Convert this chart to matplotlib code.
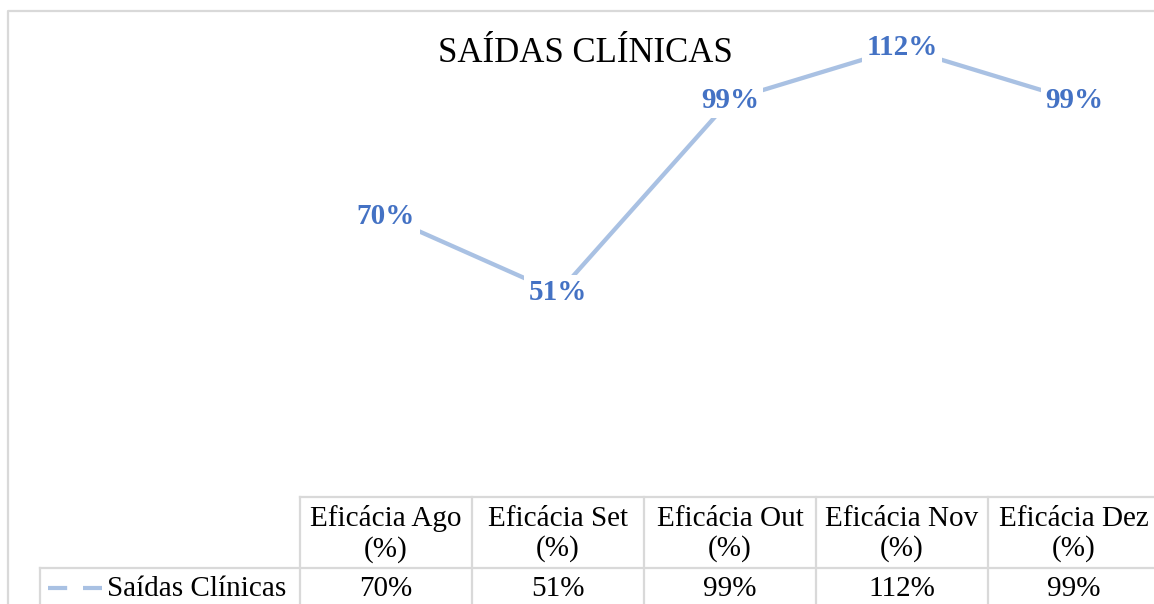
import matplotlib
matplotlib.use("Agg")
import matplotlib.pyplot as plt
from matplotlib.lines import Line2D

plt.rcParams['font.family'] = ['Liberation Serif', 'DejaVu Serif']

# dados
meses = ['Ago', 'Set', 'Out', 'Nov', 'Dez']
eficacia = [70, 51, 99, 112, 99]
serie = 'Saídas Clínicas'
titulo = 'SAÍDAS CLÍNICAS'

cor_linha = '#a9c1e3'
cor_rotulo = '#4472c4'
cor_grade = '#d9d9d9'

W, H = 1154, 604
fig = plt.figure(figsize=(W / 100, H / 100), dpi=100)

# camada em pixels para moldura e tabela
ov = fig.add_axes([0, 0, 1, 1])
ov.set_xlim(0, W)
ov.set_ylim(H, 0)
ov.axis('off')

# moldura do gráfico
ov.plot([8, 8, W + 10], [H + 10, 10.5, 10.5], color=cor_grade, lw=1.6, solid_capstyle='butt')

# tabela de dados
x0, larg = 300, 172
y_top, y_mid = 497, 568
n = len(meses)
fs_tab = 21
ov.plot([x0, x0 + n * larg], [y_top, y_top], color=cor_grade, lw=1.6)
ov.plot([40, x0 + n * larg], [y_mid, y_mid], color=cor_grade, lw=1.6)
ov.plot([40, 40], [y_mid, H + 5], color=cor_grade, lw=1.6)
for i in range(n + 1):
    ov.plot([x0 + i * larg] * 2, [y_top, H + 5], color=cor_grade, lw=1.6)
for i, m in enumerate(meses):
    cx = x0 + (i + 0.5) * larg
    ov.text(cx, 534, f'Eficácia {m}\n(%)', ha='center', va='center',
            fontsize=fs_tab, linespacing=1.17)
    ov.text(cx, 589, f'{eficacia[i]}%', ha='center', va='center', fontsize=fs_tab)

# chave da legenda
ov.add_line(Line2D([48, 102], [588, 588], color=cor_linha, lw=3.0,
                   dashes=(4.6, 3.8), solid_capstyle='butt'))
ov.text(107, 589, serie, ha='left', va='center', fontsize=fs_tab)

# área do gráfico
zero_px = 498
top_px = zero_px - 120 * 4.02
ax = fig.add_axes([x0 / W, (H - zero_px) / H, n * larg / W, (zero_px - top_px) / H])
ax.set_xlim(-0.5, n - 0.5)
ax.set_ylim(0, 120)
ax.axis('off')
ax.patch.set_alpha(0)

xs = list(range(n))
ax.plot(xs, eficacia, color=cor_linha, lw=3.1, zorder=2)
for x, v in zip(xs, eficacia):
    ax.text(x, v, f'{v}%', ha='center', va='center', fontsize=21, fontweight='bold',
            color=cor_rotulo, zorder=3,
            bbox=dict(boxstyle='square,pad=0.15', fc='white', ec='none'))

fig.text(585 / W, 1 - 54 / H, titulo, ha='center', va='center', fontsize=25)

fig.savefig('out.png', dpi=100)
